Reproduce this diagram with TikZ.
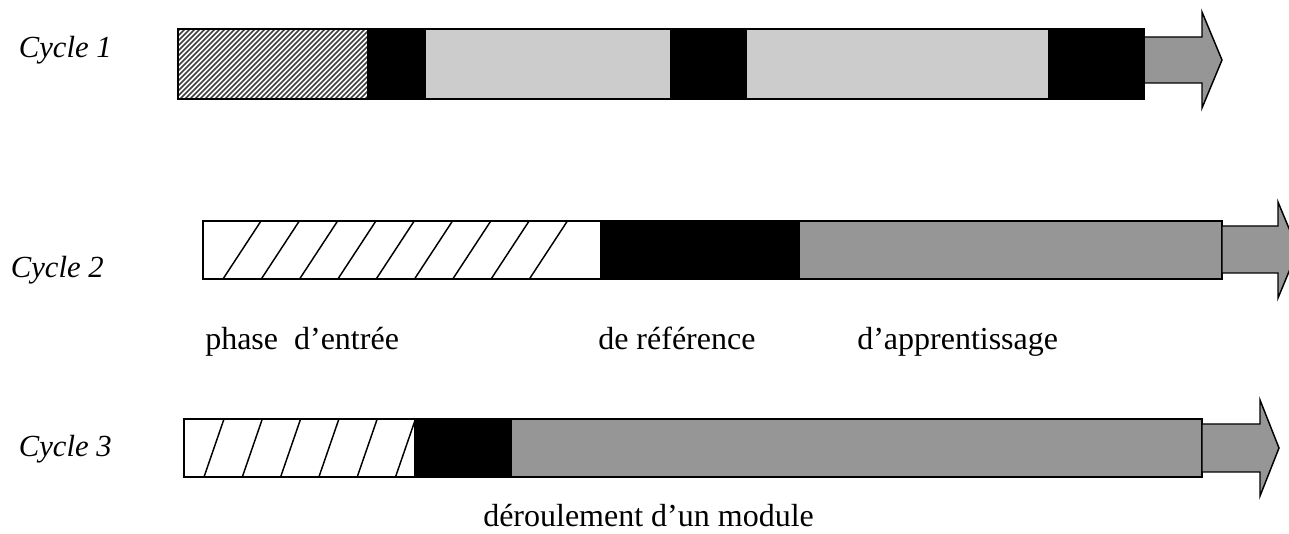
\documentclass[tikz,border=0pt]{standalone}
\usepackage{fontspec}
\setmainfont{Liberation Serif}
\definecolor{lightbar}{HTML}{CCCCCC}
\definecolor{midbar}{HTML}{969696}
\definecolor{hatchgray}{HTML}{404040}
\begin{document}
\begin{tikzpicture}[x=0.75pt,y=-0.75pt,
  label/.style={font=\fontsize{24}{28}\selectfont, inner sep=0pt},
  cyclelabel/.style={font=\fontsize{23}{27}\selectfont\itshape, inner sep=0pt},
  thickframe/.style={draw=black, line width=2.2pt},
  thinframe/.style={draw=black, line width=1.1pt},
  arrowshape/.style={fill=midbar, draw=black, line width=1.1pt, line join=miter},
  slash/.style={draw=black, line width=1.1pt}]
\useasboundingbox (0,0) rectangle (1289,534);
\clip (0,0) rectangle (1289,534);

% ---------- Cycle 1 ----------
\begin{scope}
  \clip (178,29) rectangle (367,99);
  \foreach \x in {100,105,...,370}
    \draw[hatchgray, line width=1.3pt] (\x,99) -- ++(70,-70);
\end{scope}
\fill[black]    (367,29) rectangle (426,99);
\fill[lightbar] (426,29) rectangle (670,99);
\fill[black]    (670,29) rectangle (747,99);
\fill[lightbar] (747,29) rectangle (1048,99);
\fill[black]    (1048,29) rectangle (1144,99);
\draw[arrowshape] (1144,37) -- (1202,37) -- (1202,12) -- (1222,60)
  -- (1202,108) -- (1202,83) -- (1144,83) -- cycle;
\draw[thickframe] (178,29) rectangle (1144,99);
\node[cyclelabel, anchor=base east] (c1) at (112,58) {Cycle 1};

% ---------- Cycle 2 ----------
\fill[black]  (600,221) rectangle (800,279);
\fill[midbar] (800,221) rectangle (1222,279);
\begin{scope}
  \clip (203,221) rectangle (600,279);
  \foreach \k in {0,...,8}
    \draw[slash] (223+38.3*\k,279) -- (261+38.3*\k,221);
\end{scope}
\draw[thinframe] (203,221) rectangle (1222,279);
\draw[arrowshape] (1222,226) -- (1278,226) -- (1278,202) -- (1298,250)
  -- (1278,298) -- (1278,273) -- (1222,273) -- cycle;
\node[cyclelabel, anchor=base east] (c2) at (104,278) {Cycle 2};

\node[label, anchor=base west] (entree) at (205,350) {phase\ \ d’entrée};
\node[label, anchor=base west] (reference) at (598,350) {de référence};
\node[label, anchor=base west] (apprent) at (857,350) {d’apprentissage};

% ---------- Cycle 3 ----------
\fill[black]  (414,419) rectangle (512,477);
\fill[midbar] (512,419) rectangle (1202,477);
\begin{scope}
  \clip (184,419) rectangle (414,477);
  \foreach \k in {0,...,5}
    \draw[slash] (204+38.3*\k,477) -- (224+38.3*\k,419);
\end{scope}
\draw[thinframe] (184,419) rectangle (1202,477);
\draw[arrowshape] (1202,424) -- (1260,424) -- (1260,400) -- (1279,448)
  -- (1260,496) -- (1260,472) -- (1202,472) -- cycle;
\node[cyclelabel, anchor=base east] (c3) at (112,457) {Cycle 3};

\node[label, anchor=base west] (module) at (483,527) {déroulement d’un module};
\end{tikzpicture}
\end{document}
